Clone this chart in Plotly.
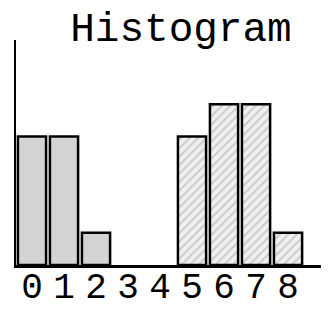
import plotly.graph_objects as go

bins = [0, 1, 2, 3, 4, 5, 6, 7, 8]
solid_counts = [4, 4, 1, None, None, None, None, None, None]
hatched_counts = [None, None, None, None, None, 4, 5, 5, 1]
tick_labels = ["0", "1", "2", "3", "4", "5", "6", "7", "8"]

fig = go.Figure()
fig.add_trace(go.Bar(
    x=bins, y=solid_counts, width=0.88,
    marker=dict(color="#d3d3d3", line=dict(color="black", width=2.5)),
))
fig.add_trace(go.Bar(
    x=bins, y=hatched_counts, width=0.88,
    marker=dict(color="#f0f0f0", line=dict(color="black", width=2.5),
                pattern=dict(shape="/", fgcolor="#a8a8a8", bgcolor="#f0f0f0", size=6, solidity=0.35)),
))

fig.update_layout(
    width=321, height=302,
    margin=dict(l=8, r=0, t=32, b=45, autoexpand=False),
    paper_bgcolor="white", plot_bgcolor="white",
    showlegend=False, barmode="overlay",
    title=dict(text="Histogram", x=0.527, xanchor="center", xref="paper",
               y=1.0, yanchor="top", yref="container", pad=dict(t=4),
               font=dict(family="Liberation Mono", size=41, color="black")),
)
fig.update_xaxes(
    range=[-0.5, 9.28], tickmode="array", tickvals=bins, ticktext=tick_labels,
    showgrid=False, zeroline=False, showline=True, linecolor="black", linewidth=2.5,
    ticks="", automargin=False, ticklabelstandoff=-13,
    tickfont=dict(family="Liberation Mono", size=36, color="black"),
)
fig.update_yaxes(
    range=[0, 7], showgrid=False, zeroline=False, showline=True, linecolor="black",
    linewidth=2, ticks="", showticklabels=False, automargin=False,
)
fig.write_html("out.html")
